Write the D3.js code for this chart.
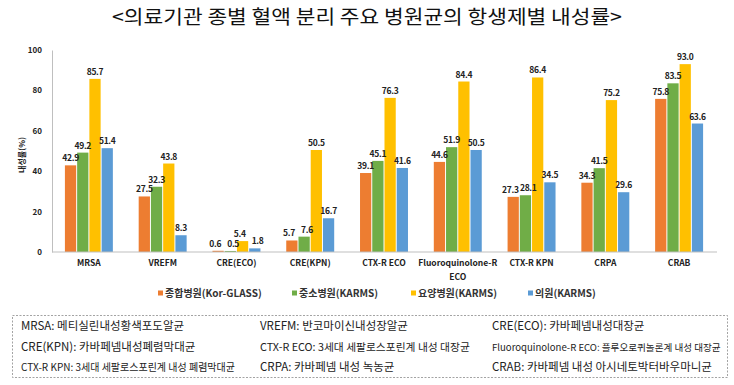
<!DOCTYPE html>
<html><head><meta charset="utf-8">
<script src="https://cdn.jsdelivr.net/npm/d3@7"></script>
<style>body{margin:0;background:#fff}svg{display:block}</style>
</head><body>
<script>
const categories = ["MRSA","VREFM","CRE(ECO)","CRE(KPN)","CTX-R ECO","Fluoroquinolone-R ECO","CTX-R KPN","CRPA","CRAB"];
const categoryLines = [["MRSA"],["VREFM"],["CRE(ECO)"],["CRE(KPN)"],["CTX-R ECO"],["Fluoroquinolone-R","ECO"],["CTX-R KPN"],["CRPA"],["CRAB"]];
const seriesNames = ["종합병원(Kor-GLASS)","중소병원(KARMS)","요양병원(KARMS)","의원(KARMS)"];
const general = [42.9, 27.5, 0.6, 5.7, 39.1, 44.6, 27.3, 34.3, 75.8];
const smallMid = [49.2, 32.3, 0.5, 7.6, 45.1, 51.9, 28.1, 41.5, 83.5];
const nursing = [85.7, 43.8, 5.4, 50.5, 76.3, 84.4, 86.4, 75.2, 93.0];
const clinic = [51.4, 8.3, 1.8, 16.7, 41.6, 50.5, 34.5, 29.6, 63.6];
const yTicks = [0, 20, 40, 60, 80, 100];
const notes = [
  ["MRSA:  메티실린내성황색포도알균", "VREFM:  반코마이신내성장알균", "CRE(ECO):  카바페넴내성대장균"],
  ["CRE(KPN):  카바페넴내성폐렴막대균", "CTX-R ECO: 3세대 세팔로스포린계 내성 대장균", "Fluoroquinolone-R ECO: 플루오로퀴놀론계 내성 대장균"],
  ["CTX-R KPN: 3세대 세팔로스포린계 내성 폐렴막대균", "CRPA:  카바페넴  내성  녹농균", "CRAB:  카바페넴 내성 아시네토박터바우마니균"]
];
const title = "<의료기관 종별 혈액 분리 주요 병원균의 항생제별 내성률>";

const colors = ["#ED7D31","#70AD47","#FFC000","#5B9BD5"];
const allSeries = [general, smallMid, nursing, clinic];
const W = 734, H = 385;
const font = "'Noto Sans CJK KR','Noto Sans',sans-serif";

const svg = d3.select("body").append("svg").attr("width", W).attr("height", H).style("font-family", font);

svg.append("text").attr("x", 367).attr("y", 24).attr("text-anchor","middle")
  .attr("font-size", 19).attr("fill","#111").attr("textLength", 510).attr("lengthAdjust","spacingAndGlyphs").text(title);

const pL = 52, pR = 716, pT = 50, pB = 252;
const x0 = d3.scaleBand().domain(categories).range([pL, pR]).paddingInner(0.35).paddingOuter(0.175);
const x1 = d3.scaleBand().domain(d3.range(4)).range([0, x0.bandwidth()]).paddingInner(0.08);
const y = d3.scaleLinear().domain([0, 100]).range([pB, pT]);

const yAxis = svg.append("g").attr("transform", `translate(${pL},0)`)
  .call(d3.axisLeft(y).tickValues(yTicks).tickSize(0).tickPadding(10));
yAxis.select(".domain").attr("stroke","#bfbfbf");
yAxis.selectAll("text").attr("font-size", 8).attr("font-weight","bold").attr("fill","#222").attr("font-family", font);

svg.append("text").attr("transform","translate(22,155) rotate(-90)").attr("text-anchor","middle")
  .attr("font-size", 8).attr("font-weight","bold").attr("fill","#222").attr("dy","0.35em").text("내성률(%)");

const groups = svg.append("g").selectAll("g").data(categories).join("g")
  .attr("transform", d => `translate(${x0(d)},0)`);

const barData = i => allSeries.map((s, k) => ({k, v: s[i], i}));

groups.selectAll("rect").data((d, i) => barData(i)).join("rect")
  .attr("x", d => x1(d.k)).attr("width", x1.bandwidth())
  .attr("y", d => y(d.v)).attr("height", d => pB - y(d.v))
  .attr("fill", d => colors[d.k]);

// small horizontal nudge where neighbouring labels sit at nearly the same height
function nudge(d) {
  let dx = 0;
  const close = (a, b) => Math.abs(y(a) - y(b)) < 9;
  if (d.k > 0 && close(allSeries[d.k - 1][d.i], d.v)) dx += 2.8;
  if (d.k < 3 && close(allSeries[d.k + 1][d.i], d.v)) dx -= 2.8;
  return dx;
}

groups.selectAll("text.lbl").data((d, i) => barData(i)).join("text")
  .attr("class","lbl")
  .attr("x", d => x1(d.k) + x1.bandwidth()/2 + nudge(d)).attr("y", d => y(d.v) - 4)
  .attr("text-anchor","middle").attr("font-size", 8.5).attr("font-weight","bold").attr("fill","#222")
  .attr("letter-spacing", -0.3)
  .text(d => d.v.toFixed(1));

const xAxis = svg.append("g").attr("transform", `translate(0,${pB})`)
  .call(d3.axisBottom(x0).tickSize(0).tickFormat(""));
xAxis.select(".domain").attr("stroke","#bfbfbf").attr("d", `M${pL},0H${pR+1}`);

categories.forEach((c, i) => {
  const cx = x0(c) + x0.bandwidth()/2;
  const t = svg.append("text").attr("x", cx).attr("y", 266)
    .attr("text-anchor","middle").attr("font-size", 8.5).attr("font-weight","bold").attr("fill","#222");
  categoryLines[i].forEach((ln, j) => t.append("tspan").attr("x", cx).attr("dy", j ? 14 : 0).text(ln));
});

const legX = [158, 292, 411, 528];
seriesNames.forEach((n, k) => {
  svg.append("rect").attr("x", legX[k]).attr("y", 290.5).attr("width", 5).attr("height", 5).attr("fill", colors[k]);
  svg.append("text").attr("x", legX[k] + 7).attr("y", 297).attr("font-size", 10).attr("font-weight","bold")
    .attr("fill","#333").text(n);
});

svg.append("rect").attr("x", 12.5).attr("y", 315.5).attr("width", 715).attr("height", 62)
  .attr("fill","none").attr("stroke","#8c8c8c").attr("stroke-dasharray","2,1.5").attr("stroke-width",0.8);
const colX = [21, 260, 492];
const rowY = [330, 351, 371];
const widths = [[187, 164, 159],[192, 210, 229],[214, 154, 232]];
notes.forEach((row, r) => row.forEach((t, c) => {
  const el = svg.append("text").attr("x", colX[c]).attr("y", rowY[r]).attr("font-size", 11.5).attr("fill","#222").text(t);
  const nat = el.node().getComputedTextLength();
  const fs = Math.min(11.5, 11.5 * widths[r][c] / nat);
  el.attr("font-size", fs.toFixed(2));
}));
</script>
</body></html>
